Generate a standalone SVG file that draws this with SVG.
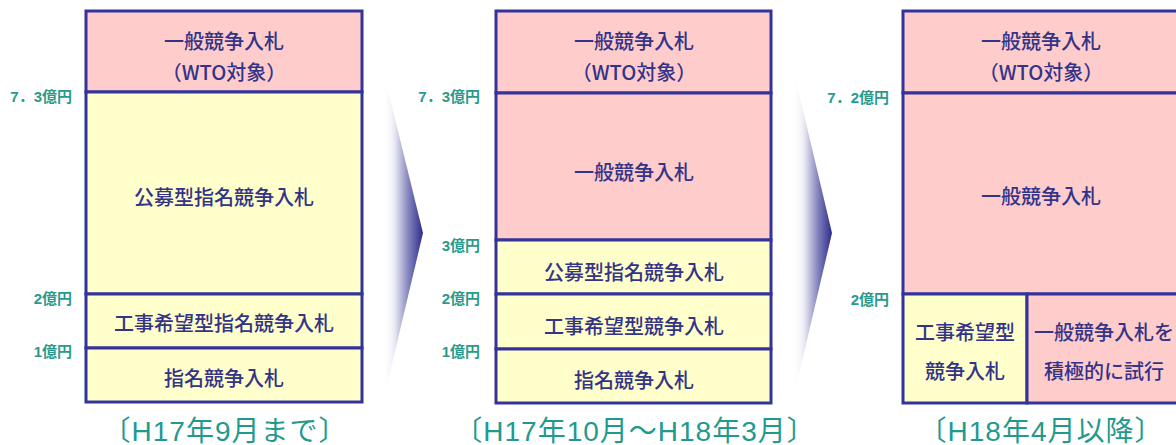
<svg xmlns="http://www.w3.org/2000/svg" width="1176" height="445" viewBox="0 0 1176 445">
<defs>
<linearGradient id="chev" x1="0" y1="0" x2="1" y2="0">
<stop offset="0" stop-color="#ffffff" stop-opacity="0"/>
<stop offset="0.3" stop-color="#e6e6f2"/>
<stop offset="0.65" stop-color="#8080bb"/>
<stop offset="1" stop-color="#2c2c8c"/>
</linearGradient>
<style>
.pink{fill:#ffcccc;stroke:#333399;stroke-width:3}
.yel{fill:#ffffcc;stroke:#333399;stroke-width:3}
.t{font-family:"Noto Sans CJK JP","Liberation Sans",sans-serif;font-size:20px;font-weight:500;fill:#333388;text-anchor:middle}
.ax{font-family:"Liberation Sans","Noto Sans CJK JP",sans-serif;font-size:15px;font-weight:bold;fill:#2a9a8c;text-anchor:end}
.cap{font-family:"Liberation Sans","Noto Sans CJK JP",sans-serif;font-size:28px;letter-spacing:1px;fill:#1f9a8c;text-anchor:middle}
</style>
</defs>
<rect width="1176" height="445" fill="#ffffff"/>
<g id="connectors">
<path d="M383,70 L423,233 L383,402 Z" fill="url(#chev)"/>
<path d="M793,68 L832,233 L793,400 Z" fill="url(#chev)"/>
</g>
<g id="col1">
<g id="c1-wto"><rect class="pink" x="86" y="11" width="276" height="81"/><text class="t" x="224" y="49">一般競争入札</text><text class="t" x="224" y="80">（WTO対象）</text></g>
<g id="c1-koubo"><rect class="yel" x="86" y="92" width="276" height="202"/><text class="t" x="224" y="205">公募型指名競争入札</text></g>
<g id="c1-kouji"><rect class="yel" x="86" y="294" width="276" height="54"/><text class="t" x="224" y="331">工事希望型指名競争入札</text></g>
<g id="c1-shimei"><rect class="yel" x="86" y="348" width="276" height="54"/><text class="t" x="224" y="386">指名競争入札</text></g>
<text class="ax" x="72" y="102">7．3億円</text>
<text class="ax" x="72" y="304">2億円</text>
<text class="ax" x="72" y="357">1億円</text>
<text class="cap" x="225" y="441">〔H17年9月まで〕</text>
</g>
<g id="col2">
<g id="c2-wto"><rect class="pink" x="496" y="11" width="275" height="82"/><text class="t" x="634" y="49">一般競争入札</text><text class="t" x="634" y="80">（WTO対象）</text></g>
<g id="c2-ippan"><rect class="pink" x="496" y="93" width="275" height="147"/><text class="t" x="634" y="180">一般競争入札</text></g>
<g id="c2-koubo"><rect class="yel" x="496" y="240" width="275" height="54"/><text class="t" x="634" y="280">公募型指名競争入札</text></g>
<g id="c2-kouji"><rect class="yel" x="496" y="294" width="275" height="55"/><text class="t" x="634" y="334">工事希望型競争入札</text></g>
<g id="c2-shimei"><rect class="yel" x="496" y="349" width="275" height="54"/><text class="t" x="634" y="388">指名競争入札</text></g>
<text class="ax" x="480" y="102">7．3億円</text>
<text class="ax" x="480" y="251">3億円</text>
<text class="ax" x="480" y="304">2億円</text>
<text class="ax" x="480" y="357">1億円</text>
<text class="cap" x="635" y="441">〔H17年10月～H18年3月〕</text>
</g>
<g id="col3">
<g id="c3-wto"><rect class="pink" x="903" y="11" width="275" height="82"/><text class="t" x="1041" y="49">一般競争入札</text><text class="t" x="1041" y="80">（WTO対象）</text></g>
<g id="c3-ippan"><rect class="pink" x="903" y="93" width="275" height="201"/><text class="t" x="1041" y="204">一般競争入札</text></g>
<g id="c3-kouji"><rect class="yel" x="903" y="294" width="124" height="109"/><text class="t" x="965" y="340">工事希望型</text><text class="t" x="965" y="379">競争入札</text></g>
<g id="c3-shikou"><rect class="pink" x="1027" y="294" width="151" height="109"/><text class="t" x="1104" y="340">一般競争入札を</text><text class="t" x="1104" y="379">積極的に試行</text></g>
<text class="ax" x="889" y="103">7．2億円</text>
<text class="ax" x="889" y="305">2億円</text>
<text class="cap" x="1041" y="441">〔H18年4月以降〕</text>
</g>
</svg>
